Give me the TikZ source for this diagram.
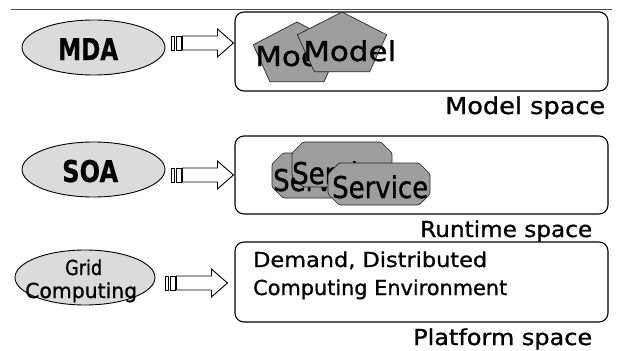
\documentclass[tikz,border=0pt]{standalone}
\usepackage{fontspec}
\setmainfont{DejaVu Sans}
\newfontfamily\heavy[FakeBold=0.9]{DejaVu Sans}
\newfontfamily\heavybold[FakeBold=0.6]{DejaVu Sans Bold}
\usepackage{graphicx}
\usetikzlibrary{shapes.geometric,calc}
\newcommand\fw[3]{\resizebox{#1pt}{\height}{\fontsize{#2}{#2}\heavy #3}}
\newcommand\fwb[3]{\resizebox{#1pt}{\height}{\fontsize{#2}{#2}\heavybold #3}}
\begin{document}
\begin{tikzpicture}[x=1pt,y=-1pt,
  spacebox/.style={draw, line width=1.1pt, rounded corners=9pt, fill=white, inner sep=0pt},
  ovalnode/.style={ellipse, draw, line width=0.9pt, fill=black!14, inner sep=0pt},
  txt/.style={inner sep=0pt, anchor=base west},
  elemfill/.style={fill=black!38, draw=black!85, line width=0.7pt, line join=round},
  blockarr/.style={draw, line width=0.9pt, fill=white, line join=miter},
  stripe/.style={draw, line width=0.7pt, fill=white}]
\useasboundingbox (0,0) rectangle (619,351);
\fill[white] (0,0) rectangle (619,351);

% top rule
\coordinate (ruleL) at (11,9.5);
\coordinate (ruleR) at (612,9.5);
\draw[black!70, line width=1.2pt] (ruleL) -- (ruleR);

% space boxes
\node[spacebox, minimum width=373pt, minimum height=79pt] (box1) at (421.5,51.5) {};
\node[spacebox, minimum width=373pt, minimum height=78pt] (box2) at (421.5,175) {};
\node[spacebox, minimum width=373pt, minimum height=80pt] (box3) at (421.5,282) {};

% ellipses
\node[ovalnode, minimum width=143pt, minimum height=55pt] (e1) at (93.5,47.5) {};
\node[ovalnode, minimum width=143pt, minimum height=55pt] (e2) at (93.5,169.5) {};
\node[ovalnode, minimum width=140pt, minimum height=55pt] (e3) at (85,277.5) {};
\node[txt] (t1) at (58,60) {\fwb{60}{30}{MDA}};
\node[txt] (t2) at (62,182) {\fwb{56}{30}{SOA}};
\node[txt] (t3a) at (65,275) {\fw{37}{20.6}{Grid}};
\node[txt] (t3b) at (25,298) {\fw{112}{20.6}{Computing}};

% block arrows
\coordinate (tip1) at ($(box1.west)+(-1,-8.5)$);
\coordinate (tip2) at ($(box2.west)+(-1,0)$);
\coordinate (tip3) at ($(box3.west)+(-7,1)$);
\foreach \t in {tip1,tip2,tip3}{
  \draw[blockarr] (\t) -- ++(-16,-14) -- ++(0,7) -- ++(-35,0) -- ++(0,14) -- ++(35,0) -- ++(0,7) -- cycle;
  \draw[stripe] ($(\t)+(-62,-7)$) rectangle ++(3,14);
  \draw[stripe] ($(\t)+(-57,-7)$) rectangle ++(5,14);
}

% model pentagons
\draw[elemfill, shift={(297,55)}] (90:46pt and 33pt) -- (162:46pt and 33pt) -- (234:46pt and 33pt) -- (306:46pt and 33pt) -- (18:46pt and 33pt) -- cycle;
\node[txt] (m1) at (255,66) {\fw{93}{27.4}{Model}};
\draw[elemfill, shift={(342,45)}] (90:47pt and 33pt) -- (162:47pt and 33pt) -- (234:47pt and 33pt) -- (306:47pt and 33pt) -- (18:47pt and 33pt) -- cycle;
\node[txt] (m2) at (303,61) {\fw{93}{27.4}{Model}};

% service octagons
\newcommand\octa[4]{\draw[elemfill, rounded corners=1.5pt] (#1+11,#2) -- (#3-11,#2) -- (#3,#2+11) -- (#3,#4-11) -- (#3-11,#4) -- (#1+11,#4) -- (#1,#4-11) -- (#1,#2+11) -- cycle;}
\octa{272}{153}{372}{198}
\node[txt] (s1) at (273,191) {\fw{96}{30}{Service}};
\octa{292}{142}{392}{187}
\node[txt] (s2) at (292,184) {\fw{96}{30}{Service}};
\octa{328}{163}{430}{205}
\node[txt] (s3) at (332,198) {\fw{96}{30}{Service}};

% platform text
\node[txt] (d1) at (253,267) {\fw{234}{20.6}{Demand, Distributed}};
\node[txt] (d2) at (253,295) {\fw{254}{20.6}{Computing Environment}};

% space labels
\node[txt] (l1) at (445,114) {\fw{160}{23.3}{Model space}};
\node[txt] (l2) at (420,237) {\fw{172}{22}{Runtime space}};
\node[txt] (l3) at (413,345) {\fw{179}{22}{Platform space}};
\end{tikzpicture}
\end{document}
